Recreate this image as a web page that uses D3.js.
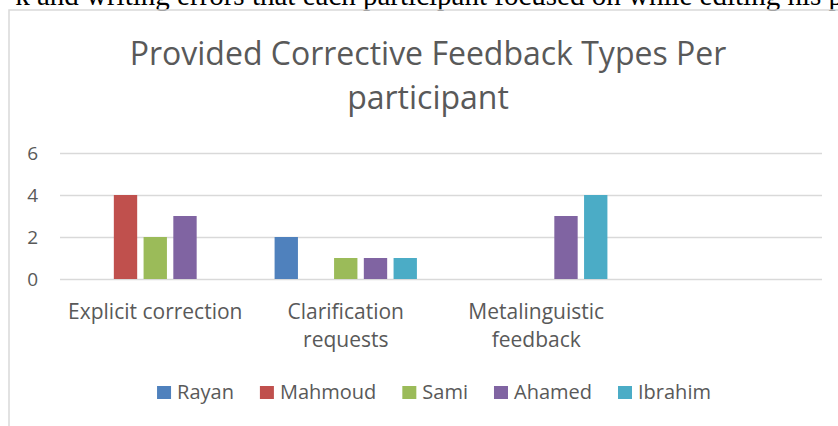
<!DOCTYPE html>
<html>
<head>
<meta charset="utf-8">
<script src="https://cdn.jsdelivr.net/npm/d3@7"></script>
<style>
  html, body { margin: 0; padding: 0; background: #fff; overflow: hidden; }
  svg { display: block; }
</style>
</head>
<body>
<svg width="838" height="426"></svg>
<script>
// chart data
const categories = ["Explicit correction", "Clarification requests", "Metalinguistic feedback", ""];
const participants = ["Rayan", "Mahmoud", "Sami", "Ahamed", "Ibrahim"];
const rayan   = [0, 2, 0, null];
const mahmoud = [4, 0, 0, null];
const sami    = [2, 1, 0, null];
const ahamed  = [3, 1, 3, null];
const ibrahim = [0, 1, 4, null];
const yTicks = [0, 2, 4, 6];
const colors = ["#4f81bd", "#c0504d", "#9bbb59", "#8064a2", "#4bacc6"];

const series = [rayan, mahmoud, sami, ahamed, ibrahim];
const font = "'Open Sans', sans-serif";
const textColor = "#595959";

var svg = d3.select("svg");

// bit of the document text above the chart (cut off, as in the page)
svg.append("text")
    .attr("x", 843)
    .attr("y", 5)
    .attr("text-anchor", "end")
    .attr("font-family", "'Liberation Serif', 'Times New Roman', serif")
    .attr("font-size", 29)
    .attr("fill", "#000")
    .text("k and writing errors that each participant focused on while editing his p");

// chart frame
svg.append("rect")
    .attr("x", 9).attr("y", 10)
    .attr("width", 900).attr("height", 500)
    .attr("fill", "none")
    .attr("stroke", "#d9d9d9")
    .attr("stroke-width", 1.5);

// title
var title = svg.append("text")
    .attr("text-anchor", "middle")
    .attr("font-family", font)
    .attr("font-size", 32)
    .attr("fill", textColor);
title.append("tspan").attr("x", 428).attr("y", 65).text("Provided Corrective Feedback Types Per");
title.append("tspan").attr("x", 428).attr("y", 109).text("participant");

var x0 = d3.scaleBand()
    .domain(categories.map(function(d, i) { return i; }))
    .range([60, 822])
    .padding(0);

var x1 = d3.scaleBand()
    .domain(participants)
    .range([0, x0.bandwidth()])
    .paddingInner(0.215)
    .paddingOuter(0.81);

var y = d3.scaleLinear()
    .domain([0, 6])
    .range([279, 153]);

// gridlines + y labels
var yAxis = svg.append("g")
    .attr("transform", "translate(60,0)")
    .call(d3.axisLeft(y).tickValues(yTicks).tickFormat(d3.format("d")).tickSize(-762).tickPadding(22));
yAxis.select(".domain").remove();
yAxis.selectAll(".tick line")
    .attr("stroke", "#d9d9d9")
    .attr("stroke-width", 1.5);
yAxis.selectAll(".tick text")
    .attr("font-family", font)
    .attr("font-size", 19)
    .attr("fill", textColor);

// bars
var groups = svg.append("g").selectAll("g")
    .data(categories)
    .join("g")
    .attr("transform", function(d, i) { return "translate(" + x0(i) + ",0)"; });

groups.selectAll("rect")
    .data(function(d, i) {
      return participants.map(function(p, j) { return {name: p, value: series[j][i], color: colors[j]}; });
    })
    .join("rect")
    .filter(function(d) { return d.value > 0; })
    .attr("x", function(d) { return x1(d.name); })
    .attr("y", function(d) { return y(d.value); })
    .attr("width", x1.bandwidth())
    .attr("height", function(d) { return y(0) - y(d.value); })
    .attr("fill", function(d) { return d.color; });

// category labels, wrapped to the band width
var labels = svg.append("g")
    .attr("font-family", font)
    .attr("font-size", 21)
    .attr("fill", textColor)
    .attr("text-anchor", "middle");

categories.forEach(function(c, i) {
  var cx = x0(i) + x0.bandwidth() / 2;
  var t = labels.append("text").attr("x", cx).attr("y", 319);
  var words = c.split(" "), line = [], lineNo = 0;
  var ts = t.append("tspan").attr("x", cx).attr("y", 319);
  words.forEach(function(w) {
    line.push(w);
    ts.text(line.join(" "));
    if (ts.node().getComputedTextLength() > x0.bandwidth() - 8 && line.length > 1) {
      line.pop();
      ts.text(line.join(" "));
      line = [w];
      lineNo++;
      ts = t.append("tspan").attr("x", cx).attr("y", 319 + lineNo * 28).text(w);
    }
  });
});

// legend
var legend = svg.append("g")
    .attr("font-family", font)
    .attr("font-size", 20)
    .attr("fill", textColor);

var items = legend.selectAll("g")
    .data(participants)
    .join("g");

items.append("rect")
    .attr("y", 386)
    .attr("width", 14)
    .attr("height", 13)
    .attr("fill", function(d, i) { return colors[i]; });

items.append("text")
    .attr("x", 20)
    .attr("y", 399)
    .text(function(d) { return d; });

var offsets = [], total = 0;
items.each(function() {
  var w = 20 + d3.select(this).select("text").node().getComputedTextLength();
  offsets.push(total);
  total += w + 26;
});
total -= 26;
var startX = 434 - total / 2;
items.attr("transform", function(d, i) { return "translate(" + (startX + offsets[i]) + ",0)"; });
</script>
</body>
</html>
